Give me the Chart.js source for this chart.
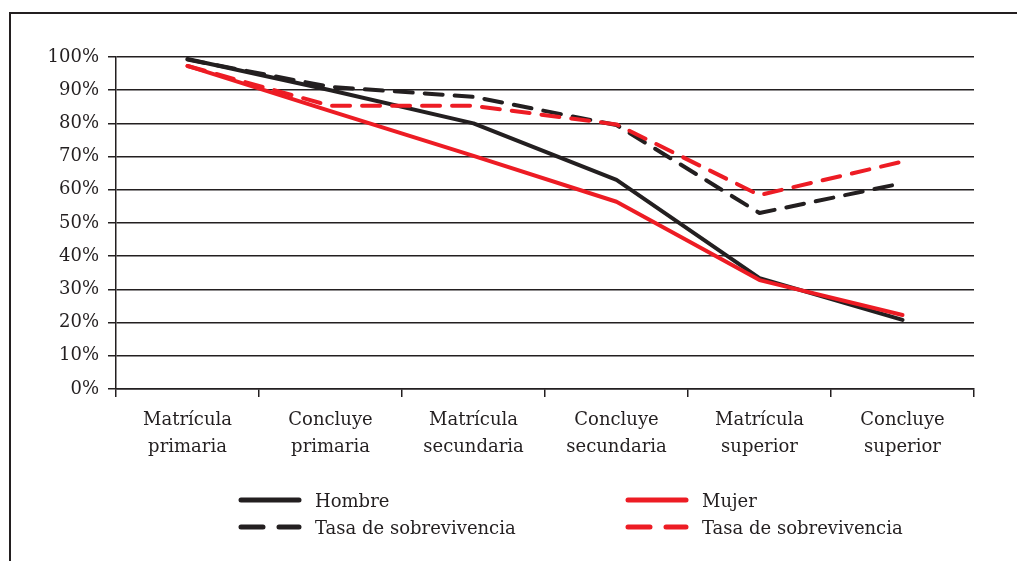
<!DOCTYPE html>
<html>
<head>
<meta charset="utf-8">
<script src="https://cdn.jsdelivr.net/npm/chart.js@4"></script>
<style>
  body { margin: 0; background: #fff; }
  #wrap { position: relative; width: 1017px; height: 561px; overflow: hidden; }
  #frame { position: absolute; left: 9px; top: 12px; right: -5px; bottom: -5px;
           border-left: 2px solid #231f20; border-top: 2px solid #231f20; }
  #chartBox { position: absolute; left: 0; top: 0; width: 1017px; height: 561px; }
  .leg { position: absolute; font-family: "DejaVu Serif", serif; font-size: 18px; color: #231f20;
         display: flex; align-items: center; height: 26px; }
  .leg svg { margin-right: 13px; }
</style>
</head>
<body>
<div id="wrap">
  <div id="frame"></div>
  <div id="chartBox"><canvas id="myChart"></canvas></div>
  <div id="legend"></div>
</div>
<script>
// categories
const etapas = [
  ["Matrícula", "primaria"],
  ["Concluye", "primaria"],
  ["Matrícula", "secundaria"],
  ["Concluye", "secundaria"],
  ["Matrícula", "superior"],
  ["Concluye", "superior"],
];

// series values (%)
const hombre = [99.4, 90, 80, 63, 33.4, 20.8];
const mujer = [97.3, 83.7, 70.2, 56.4, 32.8, 22.3];
const sobrevHombre = [99.2, 91, 88, 79.5, 53, 62];
const sobrevMujer = [97.3, 85.3, 85.3, 79.7, 58.4, 68.5];

const yTicks = [0, 10, 20, 30, 40, 50, 60, 70, 80, 90, 100];

const NEGRO = "#231f20";
const ROJO = "#ed1c24";
const DASH = [18, 12];

const serif = '"DejaVu Serif", serif';

function serie(label, data, color, dashed, order) {
  return {
    label: label,
    data: data,
    borderColor: color,
    backgroundColor: color,
    borderWidth: 4,
    borderDash: dashed ? DASH : [],
    borderCapStyle: "round",
    borderJoinStyle: "round",
    pointRadius: 0,
    tension: 0,
    order: order,
  };
}

const datasets = [
  serie("Hombre", hombre, NEGRO, false, 4),
  serie("Mujer", mujer, ROJO, false, 2),
  serie("Tasa de sobrevivencia", sobrevHombre, NEGRO, true, 3),
  serie("Tasa de sobrevivencia", sobrevMujer, ROJO, true, 1),
];

const ctx = document.getElementById("myChart");
new Chart(ctx, {
  type: "line",
  data: { labels: etapas, datasets: datasets },
  options: {
    responsive: true,
    maintainAspectRatio: false,
    animation: false,
    layout: { padding: { left: 0, top: 57, right: 43, bottom: 0 } },
    scales: {
      x: {
        offset: true,
        afterFit: function (scale) { scale.height = 172; },
        grid: {
          offset: true,
          drawOnChartArea: false,
          drawTicks: true,
          tickLength: 8,
          color: NEGRO,
          lineWidth: 1.5,
        },
        border: { display: true, color: NEGRO, width: 1.5 },
        ticks: {
          color: NEGRO,
          padding: 10,
          maxRotation: 0,
          font: { family: serif, size: 18, lineHeight: 1.5 },
        },
      },
      y: {
        min: 0,
        max: 100,
        afterFit: function (scale) { scale.width = 116; },
        afterBuildTicks: function (scale) {
          scale.ticks = yTicks.map(function (v) { return { value: v }; });
        },
        grid: {
          color: NEGRO,
          lineWidth: 1.5,
          drawTicks: true,
          tickLength: 8,
        },
        border: { display: true, color: NEGRO, width: 1.5 },
        ticks: {
          color: NEGRO,
          padding: 9,
          font: { family: serif, size: 18 },
          callback: function (value) { return value + "%"; },
        },
      },
    },
    plugins: {
      legend: { display: false },
      tooltip: { enabled: false },
    },
  },
});

/*
 * HTML legend in two columns, built from the datasets
 */
const legendPos = [
  { left: 238, top: 487 },
  { left: 625, top: 487 },
  { left: 238, top: 514 },
  { left: 625, top: 514 },
];
const legend = document.getElementById("legend");
datasets.forEach(function (ds, i) {
  const item = document.createElement("div");
  item.className = "leg";
  item.style.left = legendPos[i].left + "px";
  item.style.top = legendPos[i].top + "px";
  const dash = ds.borderDash.length ? 'stroke-dasharray="22 16"' : "";
  item.innerHTML =
    '<svg width="64" height="10"><line x1="3" y1="5" x2="61" y2="5" stroke="' + ds.borderColor +
    '" stroke-width="5" stroke-linecap="round" ' + dash + "/></svg>" +
    "<span>" + ds.label + "</span>";
  legend.appendChild(item);
});
</script>
</body>
</html>
